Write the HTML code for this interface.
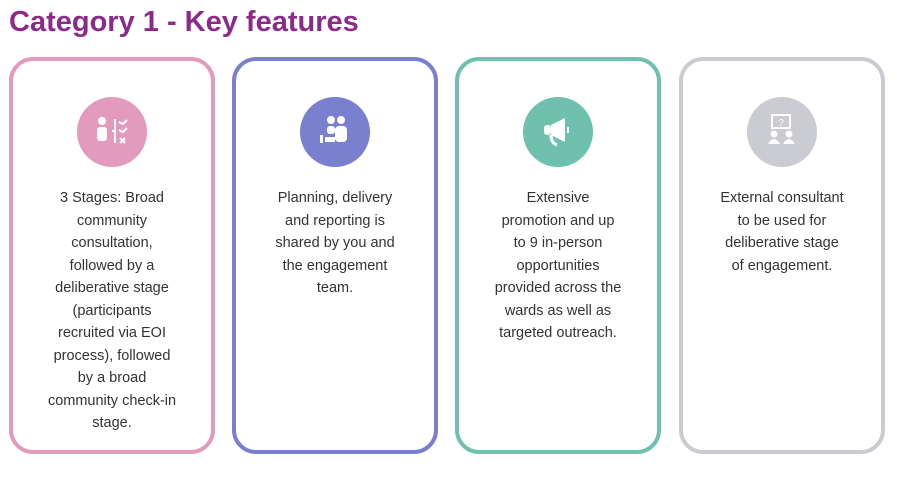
<!DOCTYPE html>
<html><head><style>
body{margin:0;width:903px;height:483px;background:#fff;font-family:"Liberation Sans",sans-serif;position:relative;overflow:hidden}
h1{position:absolute;left:9px;top:6px;margin:0;font-size:29px;font-weight:bold;color:#8c2a8c;letter-spacing:0}
.card{position:absolute;top:57px;width:198px;height:389px;border:4px solid;border-radius:24px;box-sizing:content-box}
.circ{position:absolute;left:64px;top:36px;width:70px;height:70px;border-radius:50%}
.t{position:absolute;left:0;right:0;top:126px;text-align:center;font-size:14.5px;line-height:22.5px;color:#333;white-space:nowrap}
</style></head><body>
<h1>Category 1 - Key features</h1>
<div class="card" style="left:9px;border-color:#e39bbd"><div class="circ" style="background:#e39bbd">
<svg width="70" height="70"><circle cx="25" cy="24" r="4" fill="#fff"/><rect x="20" y="30" width="10" height="14" rx="3" fill="#fff"/><path d="M38 22v24M38 34h-3" stroke="#fff" stroke-width="2" fill="none"/><path d="M42 25l4 2 4-4M42 33l4 2 4-4M43 41l5 5M48 41l-5 5" stroke="#fff" stroke-width="2" fill="none"/></svg></div>
<div class="t">3 Stages: Broad<br>community<br>consultation,<br>followed by a<br>deliberative stage<br>(participants<br>recruited via EOI<br>process), followed<br>by a broad<br>community check-in<br>stage.</div></div>
<div class="card" style="left:232px;border-color:#7b7fd0"><div class="circ" style="background:#7b7fd0">
<svg width="70" height="70"><circle cx="31" cy="23" r="4" fill="#fff"/><circle cx="41" cy="23" r="4" fill="#fff"/><rect x="35" y="29" width="12" height="16" rx="4" fill="#fff"/><rect x="27" y="29" width="8" height="8" rx="3" fill="#fff"/><rect x="20" y="38" width="3" height="8" fill="#fff"/><rect x="25" y="40" width="10" height="5" fill="#fff"/></svg></div>
<div class="t">Planning, delivery<br>and reporting is<br>shared by you and<br>the engagement<br>team.</div></div>
<div class="card" style="left:455px;border-color:#70c0ae"><div class="circ" style="background:#70c0ae">
<svg width="70" height="70"><rect x="21" y="28" width="7" height="10" rx="3" fill="#fff"/><path d="M28 28l14-7v24l-14-7z" fill="#fff"/><rect x="44" y="30" width="2" height="6" fill="#fff"/><path d="M28 38q0 8 6 10" stroke="#fff" stroke-width="3" fill="none"/></svg></div>
<div class="t">Extensive<br>promotion and up<br>to 9 in-person<br>opportunities<br>provided across the<br>wards as well as<br>targeted outreach.</div></div>
<div class="card" style="left:679px;border-color:#cbcbd2"><div class="circ" style="background:#cbcbd2">
<svg width="70" height="70"><rect x="25" y="18" width="18" height="13" fill="none" stroke="#fff" stroke-width="2"/><text x="34" y="29" font-size="10" fill="#fff" text-anchor="middle" font-family="Liberation Sans">?</text><circle cx="27" cy="37" r="3.5" fill="#fff"/><circle cx="42" cy="37" r="3.5" fill="#fff"/><path d="M21 47q6-10 12 0zM36 47q6-10 12 0z" fill="#fff"/></svg></div>
<div class="t">External consultant<br>to be used for<br>deliberative stage<br>of engagement.</div></div>
</body></html>
